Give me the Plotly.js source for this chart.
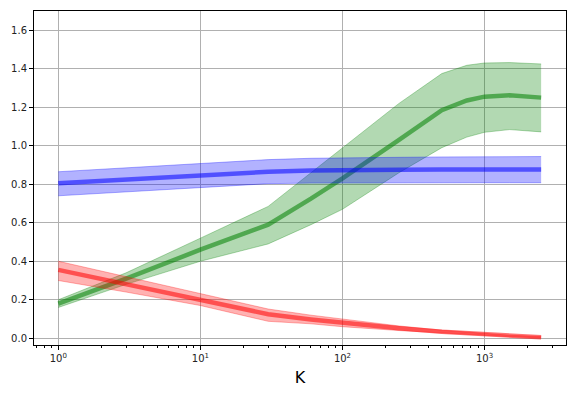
<!DOCTYPE html>
<html>
<head>
<meta charset="utf-8">
<script src="https://cdn.plot.ly/plotly-3.0.1.min.js"></script>
<style>
  html, body { margin: 0; padding: 0; background: #fff; }
  #plot { width: 576px; height: 396px; }
</style>
</head>
<body>
<div id="plot"></div>
<script>
// K values (log x axis)
const kValues = [1, 3, 10, 30, 60, 100, 250, 500, 750, 1000, 1500, 2500];

// green series
const greenMean  = [0.18, 0.31, 0.46, 0.59, 0.725, 0.83, 1.03, 1.185, 1.235, 1.255, 1.262, 1.25];
const greenUpper = [0.20, 0.34, 0.52, 0.685, 0.86, 0.99, 1.22, 1.375, 1.418, 1.43, 1.432, 1.425];
const greenLower = [0.16, 0.28, 0.40, 0.49, 0.59, 0.67, 0.86, 0.99, 1.045, 1.07, 1.084, 1.072];

// blue series
const blueMean  = [0.805, 0.825, 0.848, 0.865, 0.872, 0.875, 0.876, 0.877, 0.877, 0.877, 0.877, 0.877];
const blueUpper = [0.865, 0.885, 0.905, 0.928, 0.935, 0.938, 0.94, 0.942, 0.943, 0.943, 0.943, 0.944];
const blueLower = [0.74, 0.76, 0.785, 0.803, 0.806, 0.807, 0.808, 0.808, 0.808, 0.808, 0.808, 0.808];

// red series
const redMean  = [0.355, 0.28, 0.199, 0.125, 0.098, 0.081, 0.052, 0.034, 0.026, 0.02, 0.012, 0.005];
const redUpper = [0.40, 0.32, 0.23, 0.152, 0.12, 0.099, 0.064, 0.042, 0.032, 0.025, 0.016, 0.009];
const redLower = [0.30, 0.24, 0.17, 0.088, 0.075, 0.06, 0.04, 0.026, 0.02, 0.015, 0.008, 0.002];

const yTicks = [0, 0.2, 0.4, 0.6, 0.8, 1.0, 1.2, 1.4, 1.6];
const xTicks = [1, 10, 100, 1000];
const xTickText = ['10<sup>0</sup>', '10<sup>1</sup>', '10<sup>2</sup>', '10<sup>3</sup>'];

function band(lower, upper, rgb) {
    const edge = `rgba(${rgb},0.3)`;
    return [
        { x: kValues, y: lower, mode: 'lines', line: { color: edge, width: 1 }, showlegend: false, hoverinfo: 'skip' },
        { x: kValues, y: upper, mode: 'lines', fill: 'tonexty', fillcolor: `rgba(${rgb},0.3)`,
          line: { color: edge, width: 1 }, showlegend: false, hoverinfo: 'skip' }
    ];
}

function meanLine(values, rgb) {
    return { x: kValues, y: values, mode: 'lines', line: { color: `rgba(${rgb},0.55)`, width: 4.5 }, showlegend: false };
}

const traces = [
    ...band(greenLower, greenUpper, '0,128,0'),
    meanLine(greenMean, '0,128,0'),
    ...band(blueLower, blueUpper, '0,0,255'),
    meanLine(blueMean, '0,0,255'),
    ...band(redLower, redUpper, '255,0,0'),
    meanLine(redMean, '255,0,0')
];

const layout = {
    width: 576,
    height: 396,
    paper_bgcolor: '#fff',
    plot_bgcolor: '#fff',
    font: { family: 'DejaVu Sans', size: 10, color: '#222' },
    margin: { l: 34, r: 10, t: 11, b: 51 },
    showlegend: false,
    xaxis: {
        type: 'log',
        range: [-0.171, 3.573],
        tickvals: xTicks,
        ticktext: xTickText,
        ticks: 'outside',
        ticklen: 4,
        tickcolor: '#000',
        showline: true,
        mirror: true,
        linecolor: '#000',
        linewidth: 1,
        showgrid: true,
        gridcolor: '#b0b0b0',
        gridwidth: 1,
        zeroline: false,
        minor: { ticks: 'outside', ticklen: 2, tickcolor: '#000', dtick: 'D1', showgrid: false },
        title: { text: 'K', font: { size: 16, color: '#000' }, standoff: 8 }
    },
    yaxis: {
        range: [-0.035, 1.70],
        tickvals: yTicks,
        tickformat: '.1f',
        ticks: 'outside',
        ticklen: 4,
        tickcolor: '#000',
        showline: true,
        mirror: true,
        linecolor: '#000',
        linewidth: 1,
        showgrid: true,
        gridcolor: '#b0b0b0',
        gridwidth: 1,
        zeroline: false
    }
};

Plotly.newPlot('plot', traces, layout, { staticPlot: true, displayModeBar: false });
</script>
</body>
</html>
